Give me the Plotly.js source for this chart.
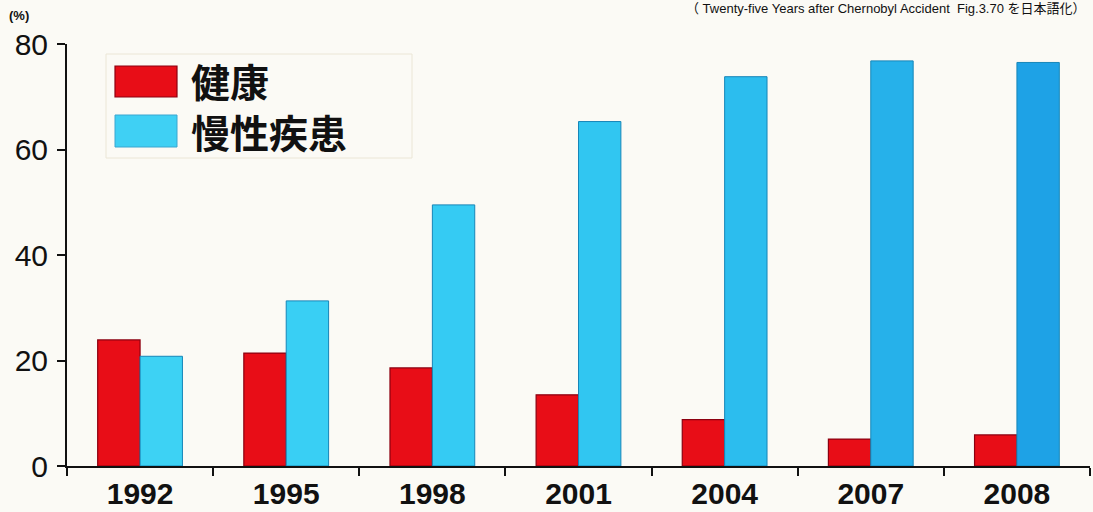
<!DOCTYPE html>
<html>
<head>
<meta charset="utf-8">
<script src="https://cdn.plot.ly/plotly-3.0.1.min.js"></script>
<style>
  html, body { margin: 0; padding: 0; background: #fbfaf5; }
  #chart { width: 1093px; height: 512px; }
</style>
</head>
<body>
<div id="chart"></div>
<script>
// Survey years and shares (%) of children by health status
const years = ['1992', '1995', '1998', '2001', '2004', '2007', '2008'];
const healthy = [23.9, 21.4, 18.6, 13.5, 8.8, 5.1, 5.9];
const chronic = [20.8, 31.3, 49.5, 65.3, 73.8, 76.8, 76.5];
const seriesNames = ['健康', '慢性疾患'];
const yTicks = [0, 20, 40, 60, 80];

const W = 1093, H = 512;
const M = { l: 67, r: 3, t: 44, b: 46 };
const plotW = W - M.l - M.r, plotH = H - M.t - M.b;
// pixel -> paper coordinate helpers for the hand-placed legend
const px = x => (x - M.l) / plotW;
const py = y => (H - M.b - y) / plotH;

const red = '#e80d17';
const cyan = ['#3dd2f4', '#39cff4', '#35cbf3', '#31c6f1', '#2cbdee', '#26b1ea', '#1ea2e6'];

const traces = [
  {
    type: 'bar', name: seriesNames[0], x: years, y: healthy,
    marker: { color: red, line: { color: '#8c0010', width: 1.2 } },
    hoverinfo: 'x+y'
  },
  {
    type: 'bar', name: seriesNames[1], x: years, y: chronic,
    marker: { color: cyan, line: { color: '#1686b8', width: 1 } },
    hoverinfo: 'x+y'
  }
];

const font = 'Liberation Sans, Arial, sans-serif';
const cjk = 'Noto Sans CJK JP, sans-serif';

const layout = {
  width: W, height: H,
  margin: M,
  paper_bgcolor: '#fbfaf5',
  plot_bgcolor: 'rgba(0,0,0,0)',
  barmode: 'group',
  bargap: 0.42,
  bargroupgap: 0,
  showlegend: false,
  xaxis: {
    type: 'category',
    tickson: 'boundaries',
    ticks: 'outside', ticklen: 8, tickwidth: 2, tickcolor: '#111',
    showline: true, linecolor: '#111', linewidth: 2,
    showgrid: false, zeroline: false,
    tickfont: { family: font, size: 30, color: '#111', weight: 'bold' },
    ticklabelstandoff: 0
  },
  yaxis: {
    range: [0, 80],
    tickvals: yTicks,
    ticktext: yTicks.map(String),
    ticks: 'outside', ticklen: 8, tickwidth: 2, tickcolor: '#111',
    showline: true, linecolor: '#111', linewidth: 2,
    showgrid: false, zeroline: false,
    tickfont: { family: font, size: 30, color: '#111' },
    ticklabelstandoff: 3
  },
  shapes: [
    { type: 'rect', xref: 'paper', yref: 'paper',
      x0: px(106), x1: px(412), y0: py(158), y1: py(54),
      line: { color: '#ebe6d6', width: 1 }, fillcolor: 'rgba(0,0,0,0)' },
    { type: 'rect', xref: 'paper', yref: 'paper',
      x0: px(115), x1: px(177), y0: py(97), y1: py(66),
      line: { color: '#8c0010', width: 1.2 }, fillcolor: red },
    { type: 'rect', xref: 'paper', yref: 'paper',
      x0: px(115), x1: px(177), y0: py(147), y1: py(115),
      line: { color: '#3aa6d0', width: 1 }, fillcolor: '#3fd0f4' }
  ],
  annotations: [
    { xref: 'paper', yref: 'paper', x: px(189), y: py(106),
      xanchor: 'left', yanchor: 'middle', align: 'left', showarrow: false,
      text: seriesNames.join('<br>'),
      font: { family: cjk, size: 39, color: '#111', weight: 'bold' } },
    { xref: 'paper', yref: 'paper', x: px(19), y: py(16),
      xanchor: 'center', yanchor: 'middle', showarrow: false,
      text: '<b>(%)</b>', font: { family: font, size: 13, color: '#111' } },
    { xref: 'paper', yref: 'paper', x: px(1088), y: py(8),
      xanchor: 'right', yanchor: 'middle', showarrow: false,
      text: '（ Twenty-five Years after Chernobyl Accident  Fig.3.70 を日本語化）',
      font: { family: 'Liberation Sans, Noto Sans CJK JP, sans-serif', size: 13, color: '#111' } }
  ]
};

Plotly.newPlot('chart', traces, layout, { displayModeBar: false, staticPlot: true });
</script>
</body>
</html>
